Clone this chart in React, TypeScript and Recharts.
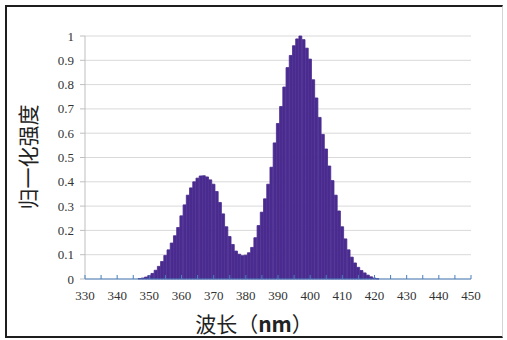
import { ComposedChart, Bar, XAxis, YAxis, CartesianGrid } from "recharts";

// wavelength (nm), 1 nm steps
const wavelengths = [
  330, 331, 332, 333, 334, 335, 336, 337, 338, 339,
  340, 341, 342, 343, 344, 345, 346, 347, 348, 349,
  350, 351, 352, 353, 354, 355, 356, 357, 358, 359,
  360, 361, 362, 363, 364, 365, 366, 367, 368, 369,
  370, 371, 372, 373, 374, 375, 376, 377, 378, 379,
  380, 381, 382, 383, 384, 385, 386, 387, 388, 389,
  390, 391, 392, 393, 394, 395, 396, 397, 398, 399,
  400, 401, 402, 403, 404, 405, 406, 407, 408, 409,
  410, 411, 412, 413, 414, 415, 416, 417, 418, 419,
  420, 421, 422, 423, 424, 425, 426, 427, 428, 429,
  430, 431, 432, 433, 434, 435, 436, 437, 438, 439,
  440, 441, 442, 443, 444, 445, 446, 447, 448, 449,
  450,
];

// normalised intensity
const intensity = [
  0, 0, 0, 0, 0, 0, 0, 0, 0, 0,
  0, 0, 0, 0, 0, 0, 0, 0.002, 0.004, 0.008,
  0.014, 0.023, 0.036, 0.052, 0.072, 0.097, 0.12, 0.148, 0.178, 0.212,
  0.26, 0.305, 0.345, 0.375, 0.4, 0.415, 0.424, 0.425, 0.42, 0.408,
  0.39, 0.36, 0.315, 0.268, 0.215, 0.175, 0.142, 0.115, 0.102, 0.096,
  0.098, 0.108, 0.13, 0.17, 0.22, 0.275, 0.33, 0.39, 0.46, 0.56,
  0.64, 0.71, 0.79, 0.87, 0.92, 0.96, 0.988, 1.0, 0.985, 0.95,
  0.905, 0.82, 0.745, 0.665, 0.595, 0.535, 0.465, 0.405, 0.345, 0.28,
  0.215, 0.165, 0.12, 0.09, 0.066, 0.048, 0.035, 0.025, 0.016, 0.009,
  0.004, 0.001, 0, 0, 0, 0, 0, 0, 0, 0,
  0, 0, 0, 0, 0, 0, 0, 0, 0, 0,
  0, 0, 0, 0, 0, 0, 0, 0, 0, 0,
  0,
];

const xTicks = [
  330, 335, 340, 345, 350, 355, 360, 365, 370, 375, 380, 385, 390,
  395, 400, 405, 410, 415, 420, 425, 430, 435, 440, 445, 450,
];
const yTicks = [0, 0.1, 0.2, 0.3, 0.4, 0.5, 0.6, 0.7, 0.8, 0.9, 1];

const data = wavelengths.map((w, i) => ({ w, v: intensity[i] }));

const serif = "Liberation Serif";
const cjk = "'Noto Sans CJK SC', sans-serif";
const purple = "#4a2b8f";

const XTick = (props: any) => {
  const { x, y, payload } = props;
  const showLabel = payload.value % 10 === 0;
  return (
    <g>
      <line x1={x} x2={x} y1={y} y2={y - 4} stroke="#4a7ebb" strokeWidth={1} />
      {showLabel && (
        <text x={x} y={y + 21} textAnchor="middle" fontSize={13} fontFamily={serif} fill="#333">
          {payload.value}
        </text>
      )}
    </g>
  );
};

const YTick = (props: any) => {
  const { x, y, payload } = props;
  return (
    <text x={x} y={y + 4.5} textAnchor="end" fontSize={13} fontFamily={serif} fill="#333">
      {payload.value}
    </text>
  );
};

export default function App() {
  return (
    <div style={{ position: "absolute", left: 0, top: 0, width: 507, height: 340, background: "#fff" }}>
      <div
        style={{
          position: "absolute",
          left: 5,
          top: 5,
          width: 498,
          height: 333,
          boxSizing: "border-box",
          borderTop: "2px solid #1e1e1e",
          borderLeft: "2px solid #1e1e1e",
          borderBottom: "2px solid #1e1e1e",
          borderRight: "1px solid #d4d4d4",
        }}
      />
      <div style={{ position: "absolute", left: 0, top: 0 }}>
        <ComposedChart
          width={507}
          height={340}
          data={data}
          margin={{ top: 36, right: 36, bottom: 31, left: 0 }}
          barCategoryGap={0}
          barGap={0}
        >
          <CartesianGrid vertical={false} stroke="#d9d9d9" />
          <XAxis
            dataKey="w"
            type="number"
            domain={[330, 450]}
            ticks={xTicks}
            interval={0}
            height={30}
            tickSize={0}
            tickMargin={0}
            tickLine={false}
            axisLine={{ stroke: "#4a7ebb", strokeWidth: 1 }}
            tick={<XTick />}
          />
          <YAxis
            type="number"
            domain={[0, 1]}
            ticks={yTicks}
            interval={0}
            width={85}
            tickSize={5}
            tickMargin={6}
            axisLine={{ stroke: "#bfbfbf" }}
            tickLine={{ stroke: "#bfbfbf" }}
            tick={<YTick />}
          />
          <Bar
            dataKey="v"
            fill={purple}
            stroke={purple}
            strokeWidth={0.8}
            barSize={3.6}
            isAnimationActive={false}
          />
        </ComposedChart>
      </div>
      <div
        style={{
          position: "absolute",
          left: 27,
          top: 157,
          transform: "translate(-50%, -50%) rotate(-90deg)",
          whiteSpace: "nowrap",
          fontFamily: cjk,
          fontSize: 21,
          color: "#222",
          lineHeight: 1,
        }}
      >
        归一化强度
      </div>
      <div
        style={{
          position: "absolute",
          left: 254,
          top: 323,
          transform: "translate(-50%, -50%)",
          whiteSpace: "nowrap",
          fontFamily: cjk,
          fontSize: 21,
          color: "#222",
          lineHeight: 1,
        }}
      >
        波长（<b>nm</b>）
      </div>
    </div>
  );
}
